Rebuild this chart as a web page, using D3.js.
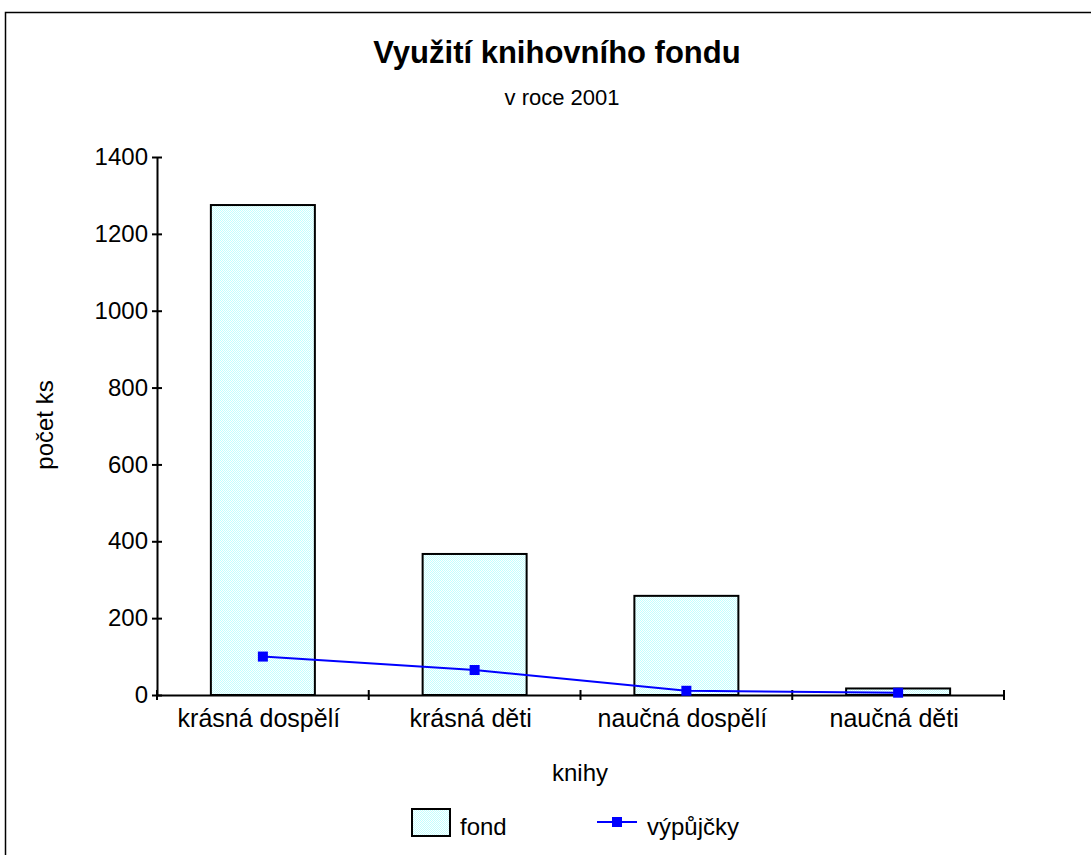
<!DOCTYPE html>
<html><head><meta charset="utf-8">
<script src="https://cdn.jsdelivr.net/npm/d3@7"></script>
<style>body{margin:0;background:#fff;}svg{display:block;font-family:"Liberation Sans",Arial,sans-serif;}</style>
</head><body>
<script>
const categories = ["krásná dospělí", "krásná děti", "naučná dospělí", "naučná děti"];
const fond = [1275, 367, 258, 17];
const vypujcky = [100, 65, 11, 6];
const yTicks = [0, 200, 400, 600, 800, 1000, 1200, 1400];
const seriesNames = ["fond", "výpůjčky"];

const W = 1091, H = 855;
const FF = "Liberation Sans, Arial, sans-serif";
const svg = d3.select("body").append("svg").attr("width", W).attr("height", H);
const defs = svg.append("defs");
const pat = defs.append("pattern").attr("id","dots").attr("patternUnits","userSpaceOnUse").attr("width",2).attr("height",2);
pat.append("rect").attr("width",2).attr("height",2).attr("fill","#ffffff");
pat.append("rect").attr("width",1).attr("height",1).attr("fill","#c2ffff");
pat.append("rect").attr("x",1).attr("y",1).attr("width",1).attr("height",1).attr("fill","#c2ffff");

svg.append("rect").attr("x",5.5).attr("y",12.5).attr("width",1200).attr("height",1000)
  .attr("fill","none").attr("stroke","#000").attr("stroke-width",1.5);

const x0 = 157, x1 = 1004, yTop = 157, yBot = 695;
const x = d3.scaleBand().domain(categories).range([x0, x1]).paddingInner(0).paddingOuter(0);
const y = d3.scaleLinear().domain([0, 1400]).range([yBot, yTop]);

svg.append("text").attr("x", 557).attr("y", 63).attr("text-anchor","middle")
  .attr("font-size", 31).attr("font-weight","bold").text("Využití knihovního fondu");
svg.append("text").attr("x", 562).attr("y", 105).attr("text-anchor","middle")
  .attr("font-size", 22).text("v roce 2001");

// bars
const bw = 104;
svg.selectAll("rect.bar").data(fond).enter().append("rect").attr("class","bar")
  .attr("x",(d,i)=>x(categories[i]) + x.bandwidth()/2 - bw/2)
  .attr("y",d=>y(d)).attr("width",bw).attr("height",d=>yBot - y(d))
  .attr("fill","url(#dots)").attr("stroke","#000").attr("stroke-width",2);

// axes
const yAxis = d3.axisLeft(y).tickValues(yTicks).tickFormat(d3.format("d")).tickSize(5).tickSizeOuter(0);
const gy = svg.append("g").attr("transform",`translate(${x0},0)`).call(yAxis);
gy.select(".domain").attr("stroke-width",2);
gy.selectAll(".tick line").attr("x2",5).attr("x1",-5).attr("stroke-width",2);
gy.selectAll(".tick text").attr("x",-9).attr("font-size",24).attr("font-family",FF).attr("fill","#000");

const xAxis = d3.axisBottom(x).tickSize(0).tickSizeOuter(0);
const gx = svg.append("g").attr("transform",`translate(0,${yBot})`).call(xAxis);
gx.select(".domain").attr("stroke-width",2);
gx.selectAll(".tick text").attr("x",-4).attr("y",32).attr("dy",0).attr("font-size",25).attr("font-family",FF).attr("fill","#000");
// boundary ticks
const bounds = categories.map(c=>x(c)).concat([x1]);
gx.selectAll("line.bt").data(bounds).enter().append("line").attr("class","bt")
  .attr("x1",d=>d).attr("x2",d=>d).attr("y1",-5).attr("y2",5).attr("stroke","#000").attr("stroke-width",2);

// line series
const cx = (d,i)=>x(categories[i]) + x.bandwidth()/2;
const line = d3.line().x((d,i)=>cx(d,i)).y(d=>y(d));
svg.append("path").datum(vypujcky).attr("d",line).attr("fill","none").attr("stroke","#0000ff").attr("stroke-width",2);
svg.selectAll("rect.mk").data(vypujcky).enter().append("rect").attr("class","mk")
  .attr("x",(d,i)=>cx(d,i)-5).attr("y",d=>y(d)-5).attr("width",10).attr("height",10).attr("fill","#0000ff");

// axis titles
svg.append("text").attr("transform","translate(53,425) rotate(-90)").attr("text-anchor","middle")
  .attr("font-size",24).text("počet ks");
svg.append("text").attr("x",580).attr("y",781).attr("text-anchor","middle").attr("font-size",24).text("knihy");

// legend
const lg = svg.append("g");
lg.append("rect").attr("x",412).attr("y",809).attr("width",38).attr("height",27).attr("fill","url(#dots)").attr("stroke","#000").attr("stroke-width",2);
lg.append("text").attr("x",460).attr("y",835).attr("font-size",24).text(seriesNames[0]);
lg.append("line").attr("x1",597).attr("x2",637).attr("y1",822).attr("y2",822).attr("stroke","#0000ff").attr("stroke-width",2);
lg.append("rect").attr("x",612).attr("y",817).attr("width",10).attr("height",10).attr("fill","#0000ff");
lg.append("text").attr("x",647).attr("y",835).attr("font-size",24).text(seriesNames[1]);
</script>
</body></html>
